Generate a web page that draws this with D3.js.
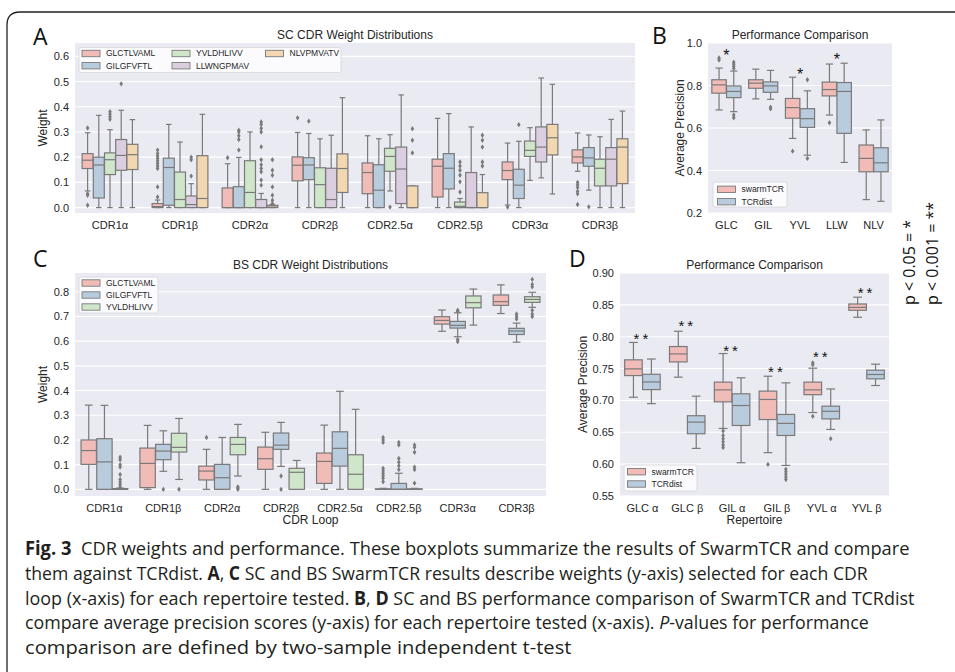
<!DOCTYPE html>
<html>
<head>
<meta charset="utf-8">
<script src="https://cdn.jsdelivr.net/npm/d3@7"></script>
<style>
  body { margin: 0; background: #fff; }
  svg { display: block; font-family: "Liberation Sans", Arial, sans-serif; }
</style>
</head>
<body>
<svg id="fig" width="955" height="672"></svg>
<script>
// ---- data: each box is [whiskerLow, q1, median, q3, whiskerHigh, outliers] ----
const loops = ["CDR1α", "CDR1β", "CDR2α", "CDR2β", "CDR2.5α", "CDR2.5β", "CDR3α", "CDR3β"];
const scPeptides = ["GLCTLVAML", "GILGFVFTL", "YVLDHLIVV", "LLWNGPMAV", "NLVPMVATV"];
const bsPeptides = ["GLCTLVAML", "GILGFVFTL", "YVLDHLIVV"];

const scGLCTLVAML = [
  [0.066, 0.155, 0.188, 0.214, 0.297, [0.316, 0.055, 0.049, 0.009]],
  [0, 0, 0.004, 0.016, 0.03, [0.042, 0.082, 0.155, 0.165, 0.175, 0.185, 0.195, 0.205, 0.215, 0.228]],
  [0, 0, 0, 0.078, 0.174, [0.198]],
  [0, 0.106, 0.168, 0.201, 0.298, [0.356]],
  [0, 0.055, 0.139, 0.177, 0.285, []],
  [0, 0.042, 0.164, 0.192, 0.354, []],
  [0.01, 0.111, 0.147, 0.181, 0.256, [0.002]],
  [0.144, 0.177, 0.201, 0.229, 0.296, [0.1, 0.09, 0.08, 0.065, 0.055, 0.012]]
];
const scGILGFVFTL = [
  [0, 0.038, 0.169, 0.2, 0.366, []],
  [0, 0.009, 0.159, 0.196, 0.33, []],
  [0, 0, 0, 0.083, 0.199, [0.228, 0.27, 0.285, 0.3, 0.307]],
  [0, 0.111, 0.169, 0.198, 0.294, [0.343]],
  [0, 0, 0.069, 0.17, 0.273, []],
  [0, 0.074, 0.156, 0.214, 0.373, []],
  [0, 0.036, 0.089, 0.152, 0.263, [0.329]],
  [0.069, 0.164, 0.197, 0.238, 0.288, [0.003]]
];
const scYVLDHLIVV = [
  [0, 0.131, 0.19, 0.217, 0.309, [0.35, 0.36, 0.37, 0.38]],
  [0, 0, 0.032, 0.141, 0.26, []],
  [0, 0, 0.06, 0.186, 0.3, []],
  [0, 0, 0.091, 0.158, 0.273, []],
  [0.066, 0.144, 0.203, 0.235, 0.289, [0.002]],
  [0, 0, 0.005, 0.022, 0.036, [0.062, 0.102, 0.128, 0.148, 0.165, 0.181]],
  [0.108, 0.203, 0.227, 0.264, 0.317, []],
  [0, 0.086, 0.156, 0.192, 0.281, []]
];
const scLLWNGPMAV = [
  [0, 0.148, 0.207, 0.27, 0.386, [0.491]],
  [0, 0, 0.012, 0.046, 0.095, [0.125, 0.19, 0.2]],
  [0, 0, 0, 0.032, 0.056, [0.089, 0.109, 0.142, 0.155, 0.17, 0.19, 0.241, 0.3, 0.315, 0.33, 0.34]],
  [0, 0, 0.032, 0.156, 0.287, []],
  [0, 0.016, 0.153, 0.24, 0.447, []],
  [0, 0, 0, 0.139, 0.32, []],
  [0.118, 0.181, 0.24, 0.32, 0.514, []],
  [0, 0.086, 0.192, 0.238, 0.35, []]
];
const scNLVPMVATV = [
  [0, 0.151, 0.21, 0.251, 0.349, []],
  [0, 0, 0.036, 0.206, 0.37, []],
  [0, 0, 0.002, 0.009, 0.012, [0.016, 0.029, 0.049, 0.082, 0.128, 0.148, 0.19]],
  [0, 0.06, 0.155, 0.213, 0.436, []],
  [0, 0, 0, 0.086, 0.086, [0.217, 0.267, 0.313]],
  [0, 0, 0, 0.059, 0.131, [0.165, 0.181, 0.24, 0.267, 0.287]],
  [0.054, 0.209, 0.277, 0.33, 0.489, []],
  [0, 0.095, 0.24, 0.273, 0.383, []]
];

const bsGLCTLVAML = [
  [0, 0.101, 0.157, 0.2, 0.341, []],
  [0, 0.007, 0.105, 0.167, 0.259, []],
  [0, 0.038, 0.074, 0.094, 0.162, [0.21]],
  [0, 0.081, 0.124, 0.171, 0.231, []],
  [0, 0.024, 0.113, 0.147, 0.26, []],
  [0, 0, 0, 0.002, 0.004, [0.031, 0.045, 0.055, 0.065, 0.075, 0.085, 0.19, 0.2, 0.21]],
  [0.64, 0.669, 0.684, 0.699, 0.726, []],
  [0.712, 0.745, 0.76, 0.787, 0.828, []]
];
const bsGILGFVFTL = [
  [0, 0, 0.111, 0.205, 0.34, []],
  [0.073, 0.12, 0.155, 0.182, 0.237, [0]],
  [0, 0, 0.047, 0.101, 0.21, []],
  [0.093, 0.162, 0.179, 0.228, 0.271, [0.054, 0]],
  [0, 0.094, 0.166, 0.233, 0.397, []],
  [0, 0, 0, 0.024, 0.065, [0.08, 0.095, 0.11, 0.125, 0.18, 0.19]],
  [0.618, 0.653, 0.664, 0.68, 0.715, [0.72, 0.725, 0.607, 0.598]],
  [0.596, 0.627, 0.641, 0.652, 0.673, [0.69, 0.7, 0.71]]
];
const bsYVLDHLIVV = [
  [0, 0, 0, 0.003, 0.005, [0.01, 0.02, 0.03, 0.04, 0.06, 0.09, 0.1, 0.12, 0.13]],
  [0.04, 0.151, 0.17, 0.227, 0.287, [0]],
  [0.054, 0.14, 0.182, 0.21, 0.263, [0.01, 0.005, 0]],
  [0, 0, 0.069, 0.085, 0.117, []],
  [0, 0, 0.061, 0.14, 0.324, []],
  [0, 0, 0, 0.002, 0.004, [0.025, 0.08, 0.09, 0.15, 0.17, 0.18]],
  [0.665, 0.735, 0.756, 0.783, 0.811, []],
  [0.737, 0.757, 0.769, 0.78, 0.798, [0.82, 0.83, 0.85, 0.725, 0.71, 0.7]]
];

const methods = ["swarmTCR", "TCRdist"];
const scRepertoires = ["GLC", "GIL", "YVL", "LLW", "NLV"];
const scSwarmTCR = [
  [0.685, 0.764, 0.803, 0.827, 0.882, [0.92, 0.93]],
  [0.737, 0.787, 0.811, 0.827, 0.877, []],
  [0.551, 0.646, 0.696, 0.739, 0.839, [0.491]],
  [0.661, 0.751, 0.781, 0.816, 0.901, [0.625]],
  [0.263, 0.394, 0.457, 0.52, 0.591, []]
];
const scTCRdist = [
  [0.677, 0.743, 0.772, 0.798, 0.868, [0.88, 0.89, 0.9, 0.91, 0.661, 0.648]],
  [0.735, 0.768, 0.798, 0.817, 0.871, [0.698, 0.69]],
  [0.472, 0.603, 0.644, 0.691, 0.775, [0.827, 0.457]],
  [0.438, 0.575, 0.772, 0.814, 0.905, []],
  [0.255, 0.394, 0.436, 0.507, 0.638, []]
];
const scStars = ["*", "", "*", "*", ""];
const scStarLevel = [0.952, null, 0.865, 0.933, null];

const bsRepertoires = ["GLC α", "GLC β", "GIL α", "GIL β", "YVL α", "YVL β"];
const bsSwarmTCR = [
  [0.705, 0.739, 0.7495, 0.7637, 0.791, []],
  [0.7365, 0.7605, 0.773, 0.7846, 0.8086, []],
  [0.656, 0.6978, 0.7166, 0.7287, 0.7736, [0.652, 0.645, 0.64, 0.635, 0.63, 0.626]],
  [0.618, 0.67, 0.7015, 0.7146, 0.738, [0.5996]],
  [0.681, 0.709, 0.7166, 0.7287, 0.7506, [0.759, 0.756, 0.675]],
  [0.8305, 0.8415, 0.846, 0.8514, 0.862, []]
];
const bsTCRdist = [
  [0.695, 0.717, 0.729, 0.741, 0.765, []],
  [0.6247, 0.6477, 0.666, 0.676, 0.7067, []],
  [0.6022, 0.6607, 0.692, 0.7104, 0.7355, []],
  [0.598, 0.645, 0.664, 0.678, 0.7276, [0.592, 0.588, 0.584, 0.58, 0.576]],
  [0.6545, 0.671, 0.683, 0.691, 0.718, [0.64]],
  [0.7234, 0.7339, 0.7407, 0.7475, 0.7569, []]
];
const bsStars = ["**", "**", "**", "**", "**", "**"];
const bsStarLevel = [0.801, 0.82, 0.782, 0.748, 0.772, 0.873];

const scWeightTicks = [0, 0.1, 0.2, 0.3, 0.4, 0.5, 0.6];
const bsWeightTicks = [0, 0.1, 0.2, 0.3, 0.4, 0.5, 0.6, 0.7, 0.8];
const scPrecisionTicks = [0.2, 0.4, 0.6, 0.8, 1.0];
const bsPrecisionTicks = [0.55, 0.6, 0.65, 0.7, 0.75, 0.8, 0.85, 0.9];

const pValueNotes = ["p < 0.05 = *", "p < 0.001 = **"];

const captionLines = [
  [["Fig. 3", "b"], ["  CDR weights and performance. These boxplots summarize the results of SwarmTCR and compare", ""]],
  [["them against TCRdist. ", ""], ["A", "b"], [", ", ""], ["C", "b"], [" SC and BS SwarmTCR results describe weights (y-axis) selected for each CDR", ""]],
  [["loop (x-axis) for each repertoire tested. ", ""], ["B", "b"], [", ", ""], ["D", "b"], [" SC and BS performance comparison of SwarmTCR and TCRdist", ""]],
  [["compare average precision scores (y-axis) for each repertoire tested (x-axis). ", ""], ["P", "i"], ["-values for performance", ""]],
  [["comparison are defined by two-sample independent t-test", ""]]
];
const captionWidths = [885, 843, 890, 844, 547];

// seaborn Pastel1, desaturated as seaborn does for boxes
const pastel = ["#F1BCB8", "#B9CCDD", "#CFE6CA", "#DCCEE1", "#F3D7B1"];
const lineGray = "#7A7A7A";
const textCol = "#262626";

const svg = d3.select("#fig");

function boxPanel(o) {
  const g = svg.append("g");
  const y = d3.scaleLinear().domain(o.yDomain).range([o.bottom, o.top]);
  const x = d3.scaleBand().domain(o.cats).range([o.left, o.right]);
  const hue = d3.scaleBand().domain(o.series.map(s => s.name))
    .range([x.bandwidth() * 0.1, x.bandwidth() * 0.9]);

  g.append("rect")
    .attr("x", o.left).attr("y", o.top)
    .attr("width", o.right - o.left).attr("height", o.bottom - o.top)
    .attr("fill", "#EAEAF2");

  g.selectAll(".grid").data(o.yTicks).join("line")
    .attr("x1", o.left).attr("x2", o.right)
    .attr("y1", d => y(d)).attr("y2", d => y(d))
    .attr("stroke", "#fff").attr("stroke-width", 1.1);

  const ya = g.append("g").attr("transform", `translate(${o.left},0)`)
    .call(d3.axisLeft(y).tickValues(o.yTicks).tickFormat(d3.format(o.fmt)).tickSize(0).tickPadding(6));
  ya.select(".domain").remove();
  ya.attr("font-family", null).attr("font-size", 11);
  ya.selectAll("text").attr("fill", textCol);

  const xa = g.append("g").attr("transform", `translate(0,${o.bottom})`)
    .call(d3.axisBottom(x).tickSize(0).tickPadding(o.xPad));
  xa.select(".domain").remove();
  xa.attr("font-family", null).attr("font-size", 11);
  xa.selectAll("text").attr("fill", textCol);

  // boxes
  const bw = hue.bandwidth() * 0.98;
  o.series.forEach(s => {
    const sg = g.append("g");
    const items = s.stats.map((st, i) => ({ cat: o.cats[i], st: st }));
    const cx = d => x(d.cat) + hue(s.name) + hue.bandwidth() / 2;

    sg.selectAll(".wu").data(items).join("line")
      .attr("x1", cx).attr("x2", cx)
      .attr("y1", d => y(d.st[3])).attr("y2", d => y(d.st[4]));
    sg.selectAll(".wd").data(items).join("line")
      .attr("x1", cx).attr("x2", cx)
      .attr("y1", d => y(d.st[1])).attr("y2", d => y(d.st[0]));
    sg.selectAll(".cu").data(items).join("line")
      .attr("x1", d => cx(d) - bw / 4).attr("x2", d => cx(d) + bw / 4)
      .attr("y1", d => y(d.st[4])).attr("y2", d => y(d.st[4]));
    sg.selectAll(".cd").data(items).join("line")
      .attr("x1", d => cx(d) - bw / 4).attr("x2", d => cx(d) + bw / 4)
      .attr("y1", d => y(d.st[0])).attr("y2", d => y(d.st[0]));
    sg.selectAll(".bx").data(items).join("rect")
      .attr("x", d => cx(d) - bw / 2).attr("width", bw)
      .attr("y", d => y(d.st[3])).attr("height", d => Math.max(0.5, y(d.st[1]) - y(d.st[3])))
      .attr("fill", s.color);
    sg.selectAll(".md").data(items).join("line")
      .attr("x1", d => cx(d) - bw / 2).attr("x2", d => cx(d) + bw / 2)
      .attr("y1", d => y(d.st[2])).attr("y2", d => y(d.st[2]));
    sg.selectAll("line, rect").attr("stroke", lineGray).attr("stroke-width", 1.2);

    const fliers = items.flatMap(d => d.st[5].map(v => ({ x: cx(d), v: v })));
    sg.selectAll(".fl").data(fliers).join("path")
      .attr("d", "M0,-2.7L1.8,0L0,2.7L-1.8,0Z")
      .attr("transform", d => `translate(${d.x},${y(d.v)})`)
      .attr("fill", lineGray);
  });

  // stars
  if (o.stars) {
    g.selectAll(".star").data(o.cats).join("text")
      .attr("x", d => x(d) + x.bandwidth() / 2)
      .attr("y", (d, i) => o.starLevel[i] == null ? 0 : y(o.starLevel[i]) + o.starSize * 0.5)
      .attr("text-anchor", "middle")
      .attr("font-size", o.starSize)
      .attr("letter-spacing", o.starSpacing || 0)
      .attr("fill", "#111")
      .text((d, i) => o.stars[i]);
  }

  // title and labels
  g.append("text").attr("x", (o.left + o.right) / 2).attr("y", o.top - 4.5)
    .attr("text-anchor", "middle").attr("font-size", 12).attr("fill", textCol).text(o.title);
  g.append("text")
    .attr("transform", `translate(${o.yLabelX},${(o.top + o.bottom) / 2}) rotate(-90)`)
    .attr("text-anchor", "middle").attr("font-size", 12).attr("fill", textCol).text(o.yLabel);
  if (o.xLabel) {
    g.append("text").attr("x", (o.left + o.right) / 2).attr("y", o.bottom + 28)
      .attr("text-anchor", "middle").attr("font-size", 12).attr("fill", textCol).text(o.xLabel);
  }

  // legend
  const L = o.legend;
  g.append("rect").attr("x", L.x).attr("y", L.y).attr("width", L.w).attr("height", L.h)
    .attr("rx", 2).attr("fill", "#FBFBFD").attr("stroke", "#D6D6DB").attr("stroke-width", 0.8);
  const ent = g.selectAll(".lg").data(o.series).join("g")
    .attr("transform", (d, i) => `translate(${L.cols[Math.floor(i / L.rows.length)]},${L.rows[i % L.rows.length]})`);
  ent.append("rect").attr("x", 0).attr("y", -3.2).attr("width", 18).attr("height", 6.4)
    .attr("fill", d => d.color).attr("stroke", lineGray).attr("stroke-width", 0.9);
  ent.append("text").attr("x", 24).attr("dy", "0.35em").attr("font-size", 8.5).attr("fill", textCol)
    .text(d => d.name);
}

// A
boxPanel({
  left: 75, right: 635, top: 43, bottom: 213, yDomain: [-0.0215, 0.653],
  cats: loops, yTicks: scWeightTicks, fmt: ".1f", xPad: 8,
  series: [scGLCTLVAML, scGILGFVFTL, scYVLDHLIVV, scLLWNGPMAV, scNLVPMVATV]
    .map((st, i) => ({ name: scPeptides[i], color: pastel[i], stats: st })),
  title: "SC CDR Weight Distributions", yLabel: "Weight", yLabelX: 46.5,
  legend: { x: 79, y: 47.5, w: 262, h: 25, cols: [82, 172, 265.5], rows: [53.5, 65.7] }
});
// B
boxPanel({
  left: 708, right: 892, top: 43, bottom: 213, yDomain: [0.2, 1.0],
  cats: scRepertoires, yTicks: scPrecisionTicks, fmt: ".1f", xPad: 8,
  series: [scSwarmTCR, scTCRdist].map((st, i) => ({ name: methods[i], color: pastel[i], stats: st })),
  stars: scStars, starLevel: scStarLevel, starSize: 16,
  title: "Performance Comparison", yLabel: "Average Precision", yLabelX: 684,
  legend: { x: 713, y: 182, w: 74, h: 25, cols: [717.5], rows: [189.3, 201.7] }
});
// C
boxPanel({
  left: 75, right: 546, top: 273, bottom: 496, yDomain: [-0.027, 0.876],
  cats: loops, yTicks: bsWeightTicks, fmt: ".1f", xPad: 8,
  series: [bsGLCTLVAML, bsGILGFVFTL, bsYVLDHLIVV]
    .map((st, i) => ({ name: bsPeptides[i], color: pastel[i], stats: st })),
  title: "BS CDR Weight Distributions", yLabel: "Weight", yLabelX: 47, xLabel: "CDR Loop",
  legend: { x: 79, y: 277, w: 79, h: 36, cols: [82], rows: [283, 295, 307] }
});
// D
boxPanel({
  left: 620, right: 889, top: 273, bottom: 496, yDomain: [0.55, 0.9],
  cats: bsRepertoires, yTicks: bsPrecisionTicks, fmt: ".2f", xPad: 8,
  series: [bsSwarmTCR, bsTCRdist].map((st, i) => ({ name: methods[i], color: pastel[i], stats: st })),
  stars: bsStars, starLevel: bsStarLevel, starSize: 15, starSpacing: 3,
  title: "Performance Comparison", yLabel: "Average Precision", yLabelX: 587, xLabel: "Repertoire",
  legend: { x: 624, y: 465, w: 73, h: 26, cols: [627.5], rows: [471.7, 484] }
});

// panel letters
svg.selectAll(".letter").data([["A", 33, 45], ["B", 652, 44], ["C", 33, 267], ["D", 569, 267]]).join("text")
  .attr("x", d => d[1]).attr("y", d => d[2])
  .attr("font-family", "'Open Sans', sans-serif").attr("font-size", 23).attr("fill", "#111")
  .text(d => d[0]);

// p-value notes
svg.selectAll(".pv").data(pValueNotes).join("text")
  .attr("transform", (d, i) => `translate(${915 + i * 23},305) rotate(-90)`)
  .attr("font-family", "'Open Sans', sans-serif").attr("font-size", 16).attr("fill", "#111")
  .text(d => d);

// frame
svg.append("path").attr("d", "M7,672V25Q7,12 20,12H955")
  .attr("fill", "none").attr("stroke", "#231F20").attr("stroke-width", 1.3);

// caption
captionLines.forEach((parts, i) => {
  const t = svg.append("text")
    .attr("xml:space", "preserve").style("white-space", "pre")
    .attr("font-family", "'Open Sans', sans-serif").attr("font-size", 19).attr("fill", "#231F20");
  parts.forEach(p => {
    t.append("tspan").text(p[0])
      .attr("font-weight", p[1] === "b" ? "bold" : null)
      .attr("font-style", p[1] === "i" ? "italic" : null);
  });
  const w = t.node().getComputedTextLength();
  t.attr("transform", `translate(25,${555 + i * 24.8}) scale(${captionWidths[i] / w},1)`);
});
</script>
</body>
</html>
